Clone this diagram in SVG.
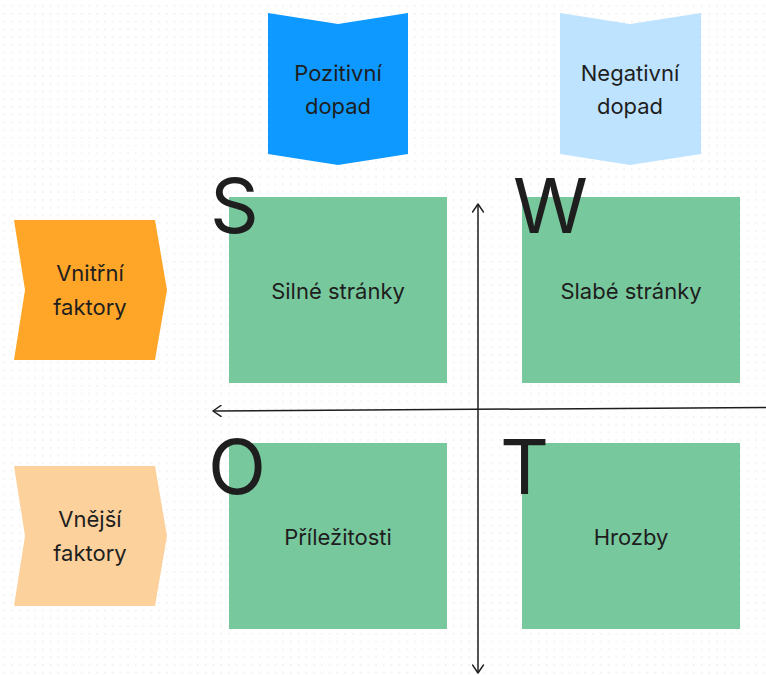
<svg xmlns="http://www.w3.org/2000/svg" width="766" height="675" viewBox="0 0 766 675">
<defs>
<pattern id="dots" x="3.3" y="5.3" width="7.75" height="7.75" patternUnits="userSpaceOnUse">
<circle cx="0.8" cy="0.8" r="0.8" fill="#e8e8e8"/>
</pattern>
<marker id="arr" viewBox="0 0 10 12" refX="9" refY="6" markerWidth="10" markerHeight="12" markerUnits="userSpaceOnUse" orient="auto-start-reverse">
<path d="M1,0.5 L9,6 L1,11.5" fill="none" stroke="#1e1e1e" stroke-width="1.5" stroke-linecap="round" stroke-linejoin="round"/>
</marker>
</defs>
<style>
.t{font-family:Inter,"Noto Sans","Liberation Sans",sans-serif;font-size:22px;fill:#1e1e1e;text-anchor:middle}
.big{font-family:Inter,"Noto Sans","Liberation Sans",sans-serif;font-size:76px;fill:#1e1e1e}
.box{fill:#78c89d}
.ax{stroke:#1e1e1e;stroke-width:1.5;fill:none}
</style>
<rect width="766" height="675" fill="#ffffff"/>
<rect width="766" height="675" fill="url(#dots)"/>

<g id="pozitivni">
<path d="M268,13 L338,24 L408,13 L408,154 L338,165 L268,154 Z" fill="#0d99ff"/>
<text class="t" x="338" y="81">Pozitivní</text>
<text class="t" x="338" y="114">dopad</text>
</g>
<g id="negativni">
<path d="M560,13 L630,24 L701,13 L701,154 L630,165 L560,154 Z" fill="#bde3ff"/>
<text class="t" x="630" y="81">Negativní</text>
<text class="t" x="630" y="114">dopad</text>
</g>
<g id="vnitrni">
<path d="M14,220 L155,220 L167,290 L155,360 L14,360 L25,290 Z" fill="#ffa629"/>
<text class="t" x="90" y="281">Vnitřní</text>
<text class="t" x="90" y="315">faktory</text>
</g>
<g id="vnejsi">
<path d="M14,466 L155,466 L167,536 L155,606 L14,606 L25,536 Z" fill="#fcd19c"/>
<text class="t" x="90" y="527">Vnější</text>
<text class="t" x="90" y="561">faktory</text>
</g>

<g id="connectors">
<line class="ax" x1="478" y1="673" x2="478" y2="204" marker-start="url(#arr)" marker-end="url(#arr)"/>
<line class="ax" x1="766" y1="407.5" x2="213" y2="411" marker-end="url(#arr)"/>
</g>

<g id="s">
<rect class="box" x="229" y="197" width="218" height="186"/>
<text class="t" x="338" y="299">Silné stránky</text>
<text class="big" x="210" y="233">S</text>
</g>
<g id="w">
<rect class="box" x="522" y="197" width="218" height="186"/>
<text class="t" x="631" y="299">Slabé stránky</text>
<text class="big" x="513" y="233">W</text>
</g>
<g id="o">
<rect class="box" x="229" y="443" width="218" height="186"/>
<text class="t" x="338" y="545">Příležitosti</text>
<text class="big" x="208" y="494">O</text>
</g>
<g id="t">
<rect class="box" x="522" y="443" width="218" height="186"/>
<text class="t" x="631" y="545">Hrozby</text>
<text class="big" x="500" y="494">T</text>
</g>
</svg>
